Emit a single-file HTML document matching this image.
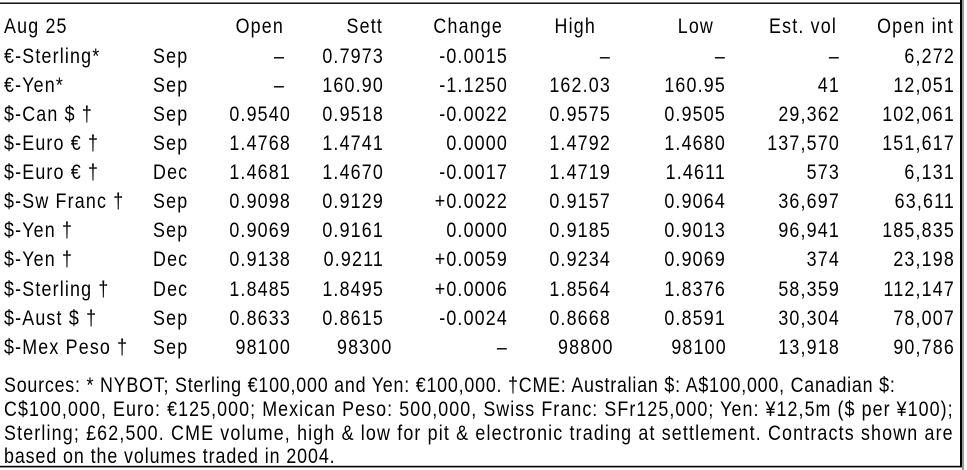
<!DOCTYPE html>
<html>
<head>
<meta charset="utf-8">
<style>
  html, body { margin: 0; padding: 0; background: #fff; }
  svg { display: block; }
  text { font-family: "Liberation Sans", Arial, sans-serif; font-size: 21px; fill: #000; letter-spacing: 1.4px; }
  .e text, text.e { text-anchor: end; }
  .fn { letter-spacing: 0; }
</style>
</head>
<body>
<svg width="967" height="470" viewBox="0 0 967 470" xmlns="http://www.w3.org/2000/svg">
  <rect x="0" y="0" width="967" height="470" fill="#fff"/>
  <!-- borders -->
  <rect x="0" y="2.5" width="961" height="1.4" fill="#000"/>
  <rect x="0" y="465.8" width="961" height="1.6" fill="#000"/>
  <rect x="960" y="0" width="2" height="467.4" fill="#000"/>
  <rect x="962" y="0" width="2" height="470" fill="#9a9a9a"/>

  <!-- Label column -->
  <g transform="translate(4 0) scale(.85 1)">
    <text x="0" y="33">Aug 25</text>
    <text x="0" y="63">€-Sterling*</text>
    <text x="0" y="92">€-Yen*</text>
    <text x="0" y="121">$-Can $ †</text>
    <text x="0" y="150">$-Euro € †</text>
    <text x="0" y="179">$-Euro € †</text>
    <text x="0" y="208">$-Sw Franc †</text>
    <text x="0" y="237">$-Yen †</text>
    <text x="0" y="266">$-Yen †</text>
    <text x="0" y="296">$-Sterling †</text>
    <text x="0" y="325">$-Aust $ †</text>
    <text x="0" y="354">$-Mex Peso †</text>
  </g>

  <!-- Month column -->
  <g transform="translate(153 0) scale(.85 1)">
    <text x="0" y="63">Sep</text>
    <text x="0" y="92">Sep</text>
    <text x="0" y="121">Sep</text>
    <text x="0" y="150">Sep</text>
    <text x="0" y="179">Dec</text>
    <text x="0" y="208">Sep</text>
    <text x="0" y="237">Sep</text>
    <text x="0" y="266">Dec</text>
    <text x="0" y="296">Dec</text>
    <text x="0" y="325">Sep</text>
    <text x="0" y="354">Sep</text>
  </g>

  <!-- Headers -->
  <text class="e" transform="translate(284 33) scale(.85 1)">Open</text>
  <text class="e" transform="translate(383 33) scale(.85 1)">Sett</text>
  <text class="e" transform="translate(503 33) scale(.85 1)">Change</text>
  <text class="e" transform="translate(596 33) scale(.85 1)">High</text>
  <text class="e" transform="translate(714 33) scale(.85 1)">Low</text>
  <text class="e" transform="translate(837 33) scale(.85 1)">Est. vol</text>
  <text class="e" transform="translate(954 33) scale(.85 1)">Open int</text>

  <!-- Open -->
  <g class="e" transform="translate(291 0) scale(.85 1)">
    <text x="-7" y="63">–</text>
    <text x="-7" y="92">–</text>
    <text x="0" y="121">0.9540</text>
    <text x="0" y="150">1.4768</text>
    <text x="0" y="179">1.4681</text>
    <text x="0" y="208">0.9098</text>
    <text x="0" y="237">0.9069</text>
    <text x="0" y="266">0.9138</text>
    <text x="0" y="296">1.8485</text>
    <text x="0" y="325">0.8633</text>
    <text x="0" y="354">98100</text>
  </g>

  <!-- Sett -->
  <g class="e" transform="translate(384 0) scale(.85 1)">
    <text x="0" y="63">0.7973</text>
    <text x="0" y="92">160.90</text>
    <text x="0" y="121">0.9518</text>
    <text x="0" y="150">1.4741</text>
    <text x="0" y="179">1.4670</text>
    <text x="0" y="208">0.9129</text>
    <text x="0" y="237">0.9161</text>
    <text x="0" y="266">0.9211</text>
    <text x="0" y="296">1.8495</text>
    <text x="0" y="325">0.8615</text>
    <text x="10" y="354">98300</text>
  </g>

  <!-- Change -->
  <g class="e" transform="translate(508 0) scale(.85 1)">
    <text x="0" y="63">-0.0015</text>
    <text x="0" y="92">-1.1250</text>
    <text x="0" y="121">-0.0022</text>
    <text x="0" y="150">0.0000</text>
    <text x="0" y="179">-0.0017</text>
    <text x="0" y="208">+0.0022</text>
    <text x="0" y="237">0.0000</text>
    <text x="0" y="266">+0.0059</text>
    <text x="0" y="296">+0.0006</text>
    <text x="0" y="325">-0.0024</text>
    <text x="0" y="354">–</text>
  </g>

  <!-- High -->
  <g class="e" transform="translate(611 0) scale(.85 1)">
    <text x="0" y="63">–</text>
    <text x="0" y="92">162.03</text>
    <text x="0" y="121">0.9575</text>
    <text x="0" y="150">1.4792</text>
    <text x="0" y="179">1.4719</text>
    <text x="0" y="208">0.9157</text>
    <text x="0" y="237">0.9185</text>
    <text x="0" y="266">0.9234</text>
    <text x="0" y="296">1.8564</text>
    <text x="0" y="325">0.8668</text>
    <text x="3" y="354">98800</text>
  </g>

  <!-- Low -->
  <g class="e" transform="translate(726 0) scale(.85 1)">
    <text x="0" y="63">–</text>
    <text x="0" y="92">160.95</text>
    <text x="0" y="121">0.9505</text>
    <text x="0" y="150">1.4680</text>
    <text x="0" y="179">1.4611</text>
    <text x="0" y="208">0.9064</text>
    <text x="0" y="237">0.9013</text>
    <text x="0" y="266">0.9069</text>
    <text x="0" y="296">1.8376</text>
    <text x="0" y="325">0.8591</text>
    <text x="1" y="354">98100</text>
  </g>

  <!-- Est. vol -->
  <g class="e" transform="translate(840 0) scale(.85 1)">
    <text x="0" y="63">–</text>
    <text x="0" y="92">41</text>
    <text x="0" y="121">29,362</text>
    <text x="0" y="150">137,570</text>
    <text x="0" y="179">573</text>
    <text x="0" y="208">36,697</text>
    <text x="0" y="237">96,941</text>
    <text x="0" y="266">374</text>
    <text x="0" y="296">58,359</text>
    <text x="0" y="325">30,304</text>
    <text x="0" y="354">13,918</text>
  </g>

  <!-- Open int -->
  <g class="e" transform="translate(955 0) scale(.85 1)">
    <text x="0" y="63">6,272</text>
    <text x="0" y="92">12,051</text>
    <text x="0" y="121">102,061</text>
    <text x="0" y="150">151,617</text>
    <text x="0" y="179">6,131</text>
    <text x="0" y="208">63,611</text>
    <text x="0" y="237">185,835</text>
    <text x="0" y="266">23,198</text>
    <text x="0" y="296">112,147</text>
    <text x="0" y="325">78,007</text>
    <text x="0" y="354">90,786</text>
  </g>

  <!-- footnotes -->
  <text class="fn" transform="translate(4 392) scale(.85 1)" textLength="1048" lengthAdjust="spacing">Sources: * NYBOT; Sterling €100,000 and Yen: €100,000. †CME: Australian $: A$100,000, Canadian $:</text>
  <text class="fn" transform="translate(4 416) scale(.85 1)" textLength="1116" lengthAdjust="spacing">C$100,000, Euro: €125,000; Mexican Peso: 500,000, Swiss Franc: SFr125,000; Yen: ¥12,5m ($ per ¥100);</text>
  <text class="fn" transform="translate(4 440) scale(.85 1)" textLength="1116" lengthAdjust="spacing">Sterling; £62,500. CME volume, high &amp; low for pit &amp; electronic trading at settlement. Contracts shown are</text>
  <text class="fn" transform="translate(4 463) scale(.85 1)" textLength="389" lengthAdjust="spacing">based on the volumes traded in 2004.</text>
</svg>
</body>
</html>
